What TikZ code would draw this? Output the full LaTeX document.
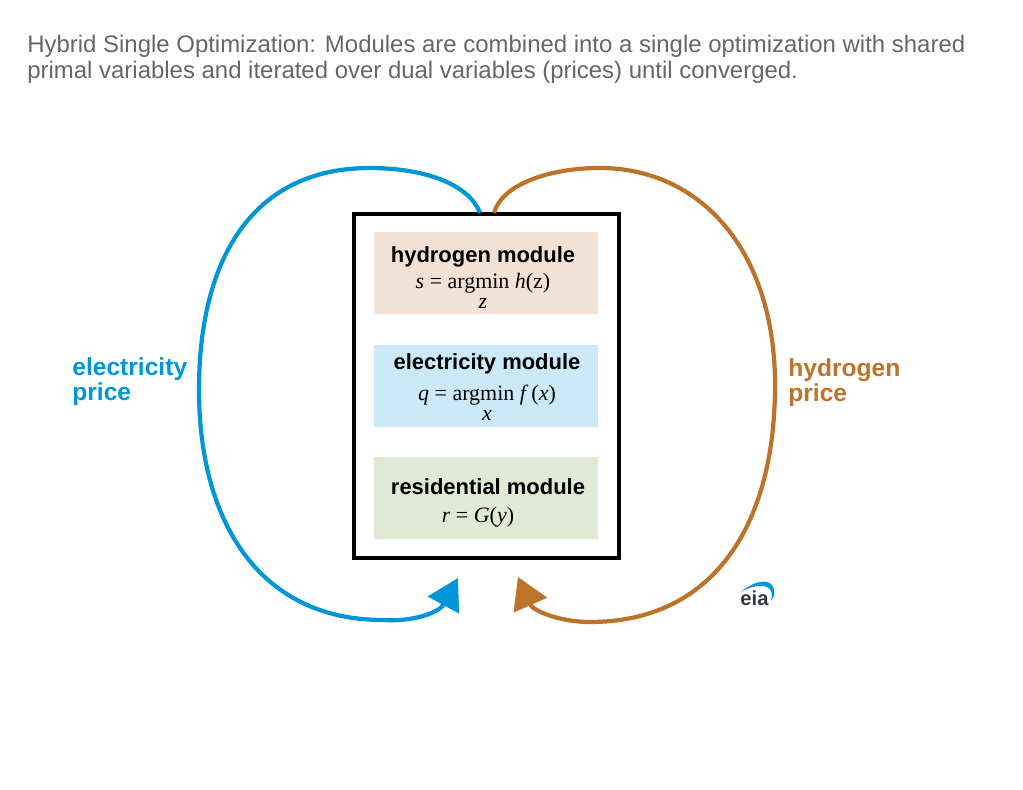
\documentclass[tikz,border=0pt]{standalone}
\usepackage{fontspec}
\setmainfont{Liberation Sans}
\newfontfamily\eqfont{Liberation Serif}
\usetikzlibrary{arrows.meta,positioning}
\definecolor{elecblue}{RGB}{0,150,215}
\definecolor{hydrobrown}{RGB}{189,115,42}
\definecolor{titlegray}{RGB}{102,102,102}
\definecolor{hydrofill}{RGB}{242,226,213}
\definecolor{elecfill}{RGB}{204,233,247}
\definecolor{resfill}{RGB}{223,233,214}
\definecolor{logogray}{RGB}{51,56,61}
\newcommand{\mvar}[1]{{\itshape #1}}
\tikzset{
  modulebox/.style={minimum width=4.48cm,minimum height=1.64cm,inner sep=0pt},
  modulename/.style={font=\fontsize{12.5}{15}\selectfont\bfseries,inner sep=0pt},
  eqtext/.style={font=\fontsize{12.5}{14}\selectfont\eqfont,inner sep=0pt},
  pricelabel/.style={font=\fontsize{14}{14.2}\selectfont\bfseries,align=left,inner sep=0pt,anchor=west},
  loopline/.style={line width=2.4pt}
}
\begin{document}
\begin{tikzpicture}[x=0.02cm,y=-0.02cm]
  \useasboundingbox (0,0) rectangle (1023,790);
  % title
  \node[anchor=west,align=left,inner sep=0pt,text=titlegray,font=\fontsize{13.63}{14.9}\selectfont] (title) at (27,59.5)
    {Hybrid Single Optimization: Modules are combined into a single optimization with shared\\
     primal variables and iterated over dual variables (prices) until converged.};
  % modules
  \node[draw=black,line width=2.3pt,minimum width=5.3cm,minimum height=6.88cm,inner sep=0pt] (outerbox) at (486.5,386) {};
  \node[modulebox,fill=hydrofill] (hydrobox) at (486,273) {};
  \node[modulebox,fill=elecfill] (elecbox) at (486,386) {};
  \node[modulebox,fill=resfill] (resbox) at (486,498) {};
  \node[modulename] (hydroname) at (483,257) {hydrogen module};
  \node[eqtext] (hydroeq) at (483,283) {\mvar{s} = argmin \mvar{h}(z)};
  \node[eqtext] (hydrosub) at (483,303) {\mvar{z}};
  \node[modulename] (elecname) at (487,364) {electricity module};
  \node[eqtext] (eleceq) at (487,395) {\mvar{q} = argmin \mvar{f} (\mvar{x})};
  \node[eqtext] (elecsub) at (487,415) {\mvar{x}};
  \node[modulename] (resname) at (488,487) {residential module};
  \node[eqtext] (reseq) at (478,517) {\mvar{r} = \mvar{G}(\mvar{y})};
  % price loops
  \coordinate (elecout) at (480,213);
  \coordinate (hydroout) at (494,213);
  \coordinate (elecin) at (458,578);
  \coordinate (hydroin) at (518,577);
  \draw[loopline,elecblue,-{Triangle[length=17.5pt,width=19.8pt]}] (elecout)
    .. controls (468,182) and (420,168) .. (370,168)
    .. controls (255,168) and (199,255) .. (199,390)
    .. controls (199,520) and (258,620) .. (383,620)
    .. controls (412,622) and (439,613) .. (elecin);
  \draw[loopline,hydrobrown,-{Triangle[length=17.5pt,width=20.4pt]}] (hydroout)
    .. controls (502,184) and (550,168) .. (600,168)
    .. controls (700,168) and (775,250) .. (775,385)
    .. controls (775,530) and (710,622) .. (590,622)
    .. controls (560,622) and (533,611) .. (hydroin);
  \node[pricelabel,text=elecblue] (eleclabel) at (72,382) {electricity\\price};
  \node[pricelabel,text=hydrobrown] (hydrolabel) at (788,383) {hydrogen\\price};
  % logo
  \fill[elecblue] (741,592) .. controls (750,584) and (764,578) .. (771,584)
    .. controls (776,589) and (775,597) .. (771,601)
    .. controls (773,596) and (772,589) .. (767,587)
    .. controls (760,584) and (750,587) .. (741,592) -- cycle;
  \node[font=\fontsize{11.5}{12}\selectfont\bfseries,text=logogray,inner sep=0pt] (logotext) at (754.5,598) {eia};
\end{tikzpicture}
\end{document}
